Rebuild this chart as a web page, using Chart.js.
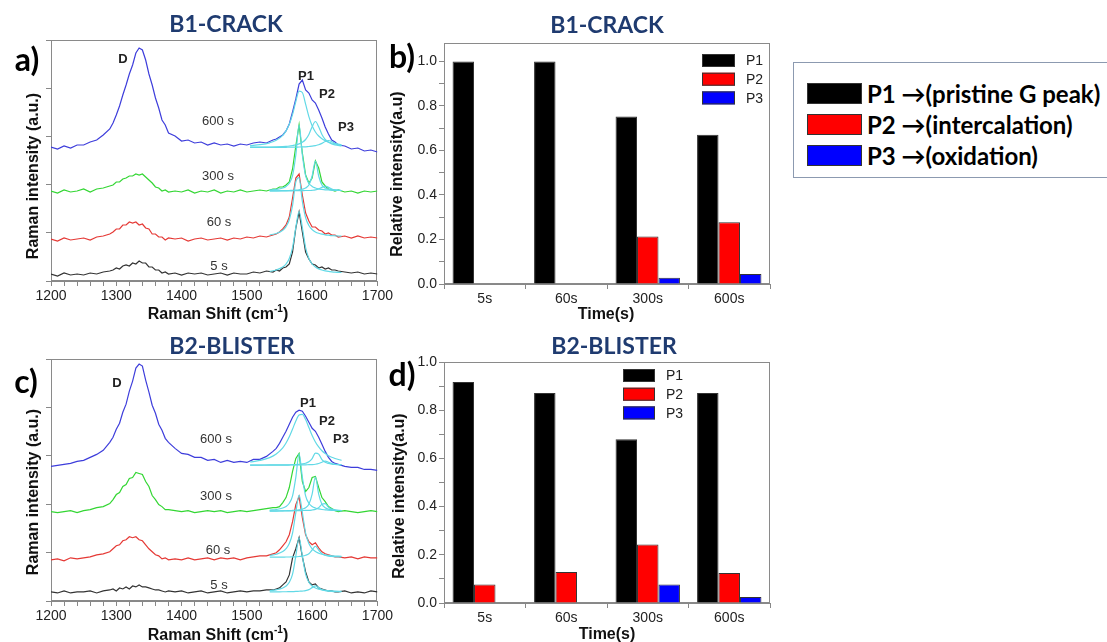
<!DOCTYPE html>
<html>
<head>
<meta charset="utf-8">
<script src="https://cdn.jsdelivr.net/npm/chart.js@4.4.0/dist/chart.umd.min.js"></script>
<style>
  body { margin: 0; background: #fff; }
  #fig { position: relative; width: 1107px; height: 642px; overflow: hidden; background: #fff;
         font-family: "Liberation Sans", Arial, sans-serif; }
  canvas { position: absolute; }
  .t { position: absolute; white-space: nowrap; transform: translate(-50%, -50%); line-height: 1; }
  .title { font-family: Lato, "Open Sans", sans-serif; font-weight: 700; font-size: 23px; color: #1f3b70; }
  .panel { font-family: Lato, "Open Sans", sans-serif; font-weight: 700; font-size: 32px; color: #000; }
  .ax { font-weight: 700; font-size: 16px; color: #111; }
  .ax.v { transform: translate(-50%, -50%) rotate(-90deg); }
  .ax sup { font-size: 10px; }
  .pk { font-weight: 700; font-size: 13px; color: #222; }
  .tm { font-size: 13px; color: #333; }
  #key { position: absolute; left: 793px; top: 62px; width: 330px; height: 114px; border: 1px solid #8c9ab0; }
  .sw { position: absolute; left: 13px; width: 53px; height: 19px; border: 1px solid #333; }
  .kt { position: absolute; left: 73px; font-family: Lato, "Open Sans", sans-serif; font-weight: 700;
        font-size: 24px; color: #000; white-space: nowrap; line-height: 21px; }
</style>
</head>
<body>
<div id="fig">
  <canvas id="cA" width="395" height="326" style="left:0;top:0"></canvas>
  <canvas id="cB" width="400" height="326" style="left:380px;top:0"></canvas>
  <canvas id="cC" width="395" height="322" style="left:0;top:320px"></canvas>
  <canvas id="cD" width="400" height="322" style="left:380px;top:320px"></canvas>

  <div class="t title" style="left:226px;top:23px">B1-CRACK</div>
  <div class="t title" style="left:607px;top:24px">B1-CRACK</div>
  <div class="t title" style="left:232px;top:345px">B2-BLISTER</div>
  <div class="t title" style="left:614px;top:345px">B2-BLISTER</div>

  <div class="t panel" style="left:27px;top:59px">a)</div>
  <div class="t panel" style="left:402px;top:56px">b)</div>
  <div class="t panel" style="left:26px;top:381px">c)</div>
  <div class="t panel" style="left:402px;top:374px">d)</div>

  <div class="t ax" style="left:218px;top:313px">Raman Shift (cm<sup>-1</sup>)</div>
  <div class="t ax" style="left:218px;top:634px">Raman Shift (cm<sup>-1</sup>)</div>
  <div class="t ax" style="left:606px;top:314px">Time(s)</div>
  <div class="t ax" style="left:607px;top:634px">Time(s)</div>
  <div class="t ax v" style="left:33px;top:176px">Raman intensity (a.u.)</div>
  <div class="t ax v" style="left:33px;top:492px">Raman intensity (a.u.)</div>
  <div class="t ax v" style="left:397px;top:174px">Relative intensity(a.u)</div>
  <div class="t ax v" style="left:399px;top:496px">Relative intensity(a.u)</div>

  <div class="t pk" style="left:123px;top:58px">D</div>
  <div class="t pk" style="left:306px;top:75px">P1</div>
  <div class="t pk" style="left:327px;top:93px">P2</div>
  <div class="t pk" style="left:346px;top:126px">P3</div>
  <div class="t tm" style="left:218px;top:120px">600 s</div>
  <div class="t tm" style="left:218px;top:175px">300 s</div>
  <div class="t tm" style="left:219px;top:221px">60 s</div>
  <div class="t tm" style="left:219px;top:265px">5 s</div>

  <div class="t pk" style="left:117px;top:382px">D</div>
  <div class="t pk" style="left:308px;top:402px">P1</div>
  <div class="t pk" style="left:327px;top:420px">P2</div>
  <div class="t pk" style="left:341px;top:438px">P3</div>
  <div class="t tm" style="left:216px;top:438px">600 s</div>
  <div class="t tm" style="left:216px;top:495px">300 s</div>
  <div class="t tm" style="left:218px;top:549px">60 s</div>
  <div class="t tm" style="left:219px;top:584px">5 s</div>

  <div id="key"></div>
</div>

<script>
// Raman shift grid (cm-1) shared by all measured spectra
const shift = [1200,1210,1220,1230,1240,1250,1260,1270,1280,1290,
  1295,1300,1305,1310,1315,1320,1325,1330,1335,1340,1345,1350,1355,1360,1365,1370,1375,1380,
  1390,1400,1410,1420,1430,1440,1450,1460,1470,1480,1490,1500,1510,1520,1530,1540,
  1545,1550,1555,1560,1565,1570,1575,1580,1585,1590,1595,1600,1605,1610,1615,1620,1625,1630,1635,1640,
  1650,1660,1670,1680,1690,1700];

// B1-CRACK spectra (a.u., stacked)
const crack5s = [7,5,8,6,7,6,8,7,9,10,
  11,13,12,15,16,15,18,17,20,18,18,14,14,11,11,8,9,7,
  8,6,8,7,8,6,7,8,6,8,7,7,9,8,10,9,
  11,10,13,14,17,29,53,69,49,29,22,17,16,13,14,12,13,11,11,10,
  9,8,9,7,8,7];
const crack60s = [42,40,43,41,42,43,41,44,45,47,
  49,52,52,56,56,59,58,59,56,57,53,52,47,47,44,44,41,43,
  42,43,40,42,43,41,42,43,41,43,42,44,43,45,44,46,
  47,49,52,56,64,83,103,107,86,68,60,54,54,51,50,47,48,46,46,44,
  45,43,45,43,44,43];
const crack300s = [90,88,91,89,90,92,89,92,93,95,
  96,99,99,102,103,105,105,107,106,107,104,101,98,94,93,90,91,89,
  90,89,91,88,90,89,91,88,90,89,91,89,90,91,90,92,
  92,94,94,96,99,112,135,156,128,106,98,103,120,113,99,95,92,91,90,91,
  89,90,88,90,89,90];
const crack600s = [134,132,135,133,136,136,139,141,146,152,
  158,166,175,186,196,207,216,228,233,231,221,207,196,183,173,161,156,148,
  145,140,141,138,139,136,138,136,137,135,137,136,138,139,138,141,
  142,144,146,150,157,169,182,197,201,191,188,181,178,171,163,154,147,141,139,136,
  135,132,133,130,131,129];

// B2-BLISTER spectra
const blister5s = [9,8,10,8,9,9,10,8,10,11,
  12,10,13,12,14,12,15,14,16,14,14,13,12,11,11,10,9,10,
  9,10,8,9,10,8,9,10,8,9,10,9,10,10,11,11,
  12,13,16,19,26,43,52,63,44,29,19,16,17,13,12,11,10,10,9,9,
  10,8,9,8,10,9];
const blister60s = [41,42,40,43,42,43,44,46,47,49,
  52,55,56,60,61,64,63,64,61,60,56,52,49,46,45,42,43,41,
  42,41,43,41,42,43,41,43,42,43,41,43,44,45,45,47,
  48,51,55,59,66,79,96,104,83,66,59,56,58,53,49,47,46,45,44,44,
  43,44,42,44,43,43];
const blister300s = [89,88,89,90,88,90,91,93,94,97,
  101,106,108,114,116,122,123,128,127,126,119,114,105,101,96,94,91,91,
  90,89,90,88,89,90,89,90,88,89,90,89,90,91,92,93,
  93,94,98,103,113,129,142,147,119,109,113,123,124,113,103,99,94,92,90,89,
  90,89,88,89,90,89];
const blister600s = [134,135,136,137,139,140,143,146,150,158,
  163,171,177,188,196,209,219,232,236,234,220,208,195,187,176,170,162,158,
  152,147,146,143,143,140,141,138,140,138,139,138,141,141,144,149,
  152,157,163,169,176,183,188,190,189,184,178,172,169,163,156,149,143,139,137,136,
  134,133,133,131,131,130];

// fitted peak components (cyan), on their own shift grid
const fitShift = [1505,1520,1535,1545,1555,1560,1565,1570,1575,1580,1585,1590,1595,1600,1605,1610,1615,1620,1625,1630,1635,1645];
const crackFit600P1 = [135.3,136.3,138.2,140.7,145.7,150.1,156.7,166.6,179.5,189.9,188.5,176.8,164.4,155.2,149,145,142.3,140.4,139,138,137.3,136.3];
const crackFit600P2 = [133.8,133.9,134,134.2,134.5,134.7,135,135.5,136.1,137.1,138.7,141.5,146.5,154.3,159.5,154.3,146.5,141.5,138.7,137.1,136.1,135];
const crackFit600P3 = [133.6,133.6,133.6,133.7,133.7,133.7,133.8,133.8,133.9,134,134.1,134.2,134.5,134.8,135.4,136.2,137.6,139.5,140.5,139.5,137.6,135.4];
const crackFit300P1 = [null,null,91,91.6,93,94.6,97.8,105.3,126,156,126,105.3,97.8,94.6,93,92.1,91.6,91.2,91,90.8,90.7,90.5];
const crackFit300P2 = [null,null,90.2,90.2,90.3,90.4,90.5,90.6,90.8,91.2,91.8,93,96,105,120,105,96,93,91.8,91.2,90.8,90.5];
const crackFit300P3 = [null,null,90.1,90.1,90.1,90.2,90.2,90.2,90.3,90.3,90.4,90.5,90.5,90.7,91.1,92,93.6,95,93.6,92,91.1,90.5];
const crackFit60P1 = [null,null,46.1,47.5,50.8,54.4,61.3,75.5,99.2,103.3,79.7,63.4,55.5,51.4,49.1,47.7,46.8,46.2,45.8,45.4,45.2,44.9];
const crackFit5P1 = [null,null,9.6,11,13.9,17,22.5,33.5,53.5,69.5,53.5,33.5,22.5,17,13.9,12.1,11,10.2,9.6,9.2,8.9,8.5];

const blisterFit600P1 = [138.4,140,142.8,146.4,152.5,157.3,163.5,171.2,179.3,185.2,185.8,180.7,172.8,164.9,158.4,153.4,149.6,146.8,144.7,143.1,141.9,140.1];
const blisterFit600P2 = [135.4,135.4,135.5,135.5,135.6,135.6,135.7,135.8,135.9,136.1,136.5,137.2,138.6,141.8,147.3,146.3,140.9,138.2,137,136.4,136.1,135.7];
const blisterFit600P3 = [135.3,135.3,135.3,135.4,135.4,135.4,135.4,135.5,135.5,135.5,135.6,135.6,135.8,135.9,136.2,136.9,138.2,139.3,138.2,136.9,136.2,135.7];
const blisterFit300P1 = [null,null,90.5,91.1,92.6,94.2,97.4,104.6,123.2,146.5,123.2,104.6,97.4,94.2,92.6,91.7,91.1,90.8,90.5,90.3,90.2,90];
const blisterFit300P2 = [null,null,89.7,89.7,89.8,89.9,90,90.2,90.4,90.8,91.5,92.9,96.3,106.5,123.5,106.5,96.3,92.9,91.5,90.8,90.4,90];
const blisterFit300P3 = [null,null,89.6,89.6,89.7,89.7,89.8,89.8,89.9,90,90.1,90.2,90.2,90.6,91.3,93,96.3,96.9,93.5,91.5,90.7,90];
const blisterFit60P1 = [null,null,45.4,46.6,49.2,52.1,57.2,67.7,88.1,105.5,88.1,67.7,57.2,52.1,49.2,47.6,46.6,45.9,45.4,45,44.8,44.4];
const blisterFit60P2 = [null,null,43.6,43.7,43.7,43.8,43.8,43.9,44,44.3,44.7,45.5,47.1,50.8,54.5,50.8,47.1,45.5,44.7,44.3,44.1,43.8];
const blisterFit5P1 = [null,null,10.3,11.1,12.9,14.9,18.6,26.8,44.8,63,44.8,26.8,18.6,14.9,12.9,11.8,11.1,10.6,10.3,10,9.8,9.6];
const blisterFit5P2 = [null,null,9.1,9.1,9.2,9.2,9.3,9.4,9.5,9.7,9.9,10.3,11.3,13.3,15,13.3,11.3,10.3,9.8,9.5,9.4,9.2];

// relative intensities of the three G-band components
const timeLabels = ['5s', '60s', '300s', '600s'];
const crackP1 = [1.0, 1.0, 0.753, 0.671];
const crackP2 = [null, null, 0.214, 0.278];
const crackP3 = [null, null, 0.028, 0.045];
const blisterP1 = [0.917, 0.871, 0.679, 0.871];
const blisterP2 = [0.077, 0.129, 0.243, 0.124];
const blisterP3 = [null, null, 0.077, 0.025];

const peakNames = ['P1', 'P2', 'P3'];
const peakMeaning = ['(pristine G peak)', '(intercalation)', '(oxidation)'];
const peakColors = ['#000000', '#ff0000', '#0000ff'];
const spectrumColors = ['#333333', '#e53935', '#33d633', '#3d3ddb']; // 5s, 60s, 300s, 600s
const fitColor = '#62d9e6';

Chart.defaults.font.family = '"Liberation Sans", Arial, sans-serif';
Chart.defaults.color = '#222';

// box round the plot area
const frame = {
  id: 'frame',
  beforeDatasetsDraw(chart) {
    const { ctx, chartArea: a } = chart;
    ctx.save();
    ctx.strokeStyle = '#8a8a8a';
    ctx.lineWidth = 1;
    ctx.strokeRect(Math.round(a.left) + 0.5, Math.round(a.top) + 0.5,
      Math.round(a.right - a.left) - 1, Math.round(a.bottom - a.top) - 1);
    ctx.restore();
  }
};

// small legend inside the bar plots
const barKey = {
  id: 'barKey',
  afterDraw(chart, args, opts) {
    const ctx = chart.ctx;
    ctx.save();
    ctx.font = '14px "Liberation Sans", Arial, sans-serif';
    ctx.textBaseline = 'middle';
    chart.data.datasets.forEach((ds, i) => {
      const y = opts.y + i * opts.step;
      ctx.fillStyle = ds.backgroundColor;
      ctx.fillRect(opts.x, y, opts.w, opts.h);
      ctx.strokeStyle = '#333';
      ctx.lineWidth = 1;
      ctx.strokeRect(opts.x + 0.5, y + 0.5, opts.w - 1, opts.h - 1);
      ctx.fillStyle = '#222';
      ctx.fillText(ds.label, opts.x + opts.w + 11, y + opts.h / 2 + 1);
    });
    ctx.restore();
  }
};

function pts(xs, ys) {
  return xs.map((x, i) => ({ x: x, y: ys[i] }));
}

function spectrumChart(id, curves, fits, padTop, xHeight) {
  const datasets = [];
  fits.forEach(f => datasets.push({
    data: pts(fitShift, f), borderColor: fitColor, borderWidth: 1.2,
    pointRadius: 0, cubicInterpolationMode: 'monotone', order: 0
  }));
  curves.forEach((c, i) => datasets.push({
    data: pts(shift, c), borderColor: spectrumColors[i], borderWidth: 1.2,
    pointRadius: 0, tension: 0, order: 1
  }));
  return new Chart(document.getElementById(id), {
    type: 'line',
    data: { datasets: datasets },
    options: {
      responsive: false,
      animation: false,
      layout: { padding: { top: padTop, right: 11, left: 0, bottom: 0 } },
      plugins: { legend: { display: false }, tooltip: { enabled: false } },
      scales: {
        x: {
          type: 'linear', min: 1200, max: 1700,
          grid: { drawOnChartArea: false, tickLength: 5, color: '#888' },
          border: { color: '#888' },
          ticks: {
            stepSize: 20, autoSkip: false, maxRotation: 0, padding: 2,
            font: { size: 14 }, color: '#222',
            callback: v => (v % 100 === 0 ? String(v) : '')
          },
          afterFit: s => { s.height = xHeight; }
        },
        y: {
          min: 0, max: 241,
          grid: { drawOnChartArea: false, tickLength: 5, color: '#888' },
          border: { color: '#888' },
          ticks: { display: false, stepSize: 48 },
          afterFit: s => { s.width = 51; }
        }
      }
    },
    plugins: [frame]
  });
}

function barChart(id, values, yMax, padTop, xHeight, key) {
  return new Chart(document.getElementById(id), {
    type: 'bar',
    data: {
      labels: timeLabels,
      datasets: values.map((v, i) => ({
        label: peakNames[i], data: v,
        backgroundColor: peakColors[i], borderColor: '#333', borderWidth: 1
      }))
    },
    options: {
      responsive: false,
      animation: false,
      layout: { padding: { top: padTop, right: 10, left: 0, bottom: 0 } },
      datasets: { bar: { categoryPercentage: 0.79, barPercentage: 1.0 } },
      plugins: { legend: { display: false }, tooltip: { enabled: false }, barKey: key },
      scales: {
        x: {
          grid: { drawOnChartArea: false, tickLength: 5, color: '#888' },
          border: { color: '#888' },
          ticks: { font: { size: 14 }, color: '#222', padding: 2, maxRotation: 0 },
          afterFit: s => { s.height = xHeight; }
        },
        y: {
          min: 0, max: yMax,
          grid: { drawOnChartArea: false, tickLength: 5, color: '#888' },
          border: { color: '#888' },
          ticks: {
            stepSize: 0.1, includeBounds: false, font: { size: 14 }, color: '#222', padding: 2,
            callback: v => (Math.round(v * 10) % 2 === 0 ? v.toFixed(1) : '')
          },
          afterFit: s => { s.width = 64; }
        }
      }
    },
    plugins: [frame, barKey]
  });
}

spectrumChart('cA', [crack5s, crack60s, crack300s, crack600s],
  [crackFit600P1, crackFit600P2, crackFit600P3, crackFit300P1, crackFit300P2, crackFit300P3, crackFit60P1, crackFit5P1],
  40, 45);
spectrumChart('cC', [blister5s, blister60s, blister300s, blister600s],
  [blisterFit600P1, blisterFit600P2, blisterFit600P3, blisterFit300P1, blisterFit300P2, blisterFit300P3,
   blisterFit60P1, blisterFit60P2, blisterFit5P1, blisterFit5P2],
  39, 41);
barChart('cB', [crackP1, crackP2, crackP3], 1.083, 43, 42, { x: 322, y: 54, w: 33, h: 13, step: 18.7 });
barChart('cD', [blisterP1, blisterP2, blisterP3], 1.0, 42, 39, { x: 243, y: 49, w: 32, h: 13, step: 18.7 });

// summary key on the right
const key = document.getElementById('key');
peakNames.forEach((p, i) => {
  const sw = document.createElement('div');
  sw.className = 'sw';
  sw.style.top = (20 + i * 31) + 'px';
  sw.style.background = peakColors[i];
  key.appendChild(sw);
  const tx = document.createElement('div');
  tx.className = 'kt';
  tx.style.top = (20 + i * 31) + 'px';
  tx.textContent = p + ' \u2192' + peakMeaning[i];
  key.appendChild(tx);
});
</script>
</body>
</html>
